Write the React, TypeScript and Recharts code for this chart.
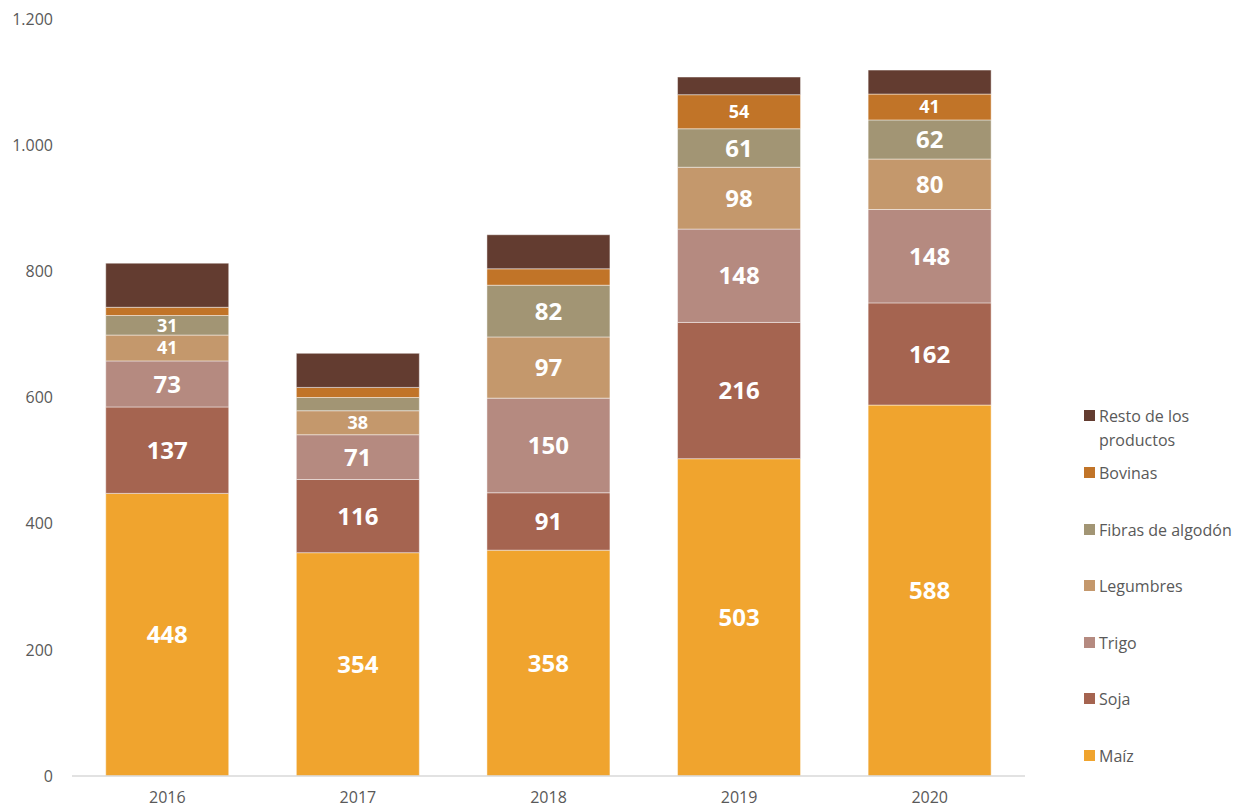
import { Bar, BarChart, XAxis, YAxis, LabelList } from "recharts"

// values in millones de US$
const years = ["2016", "2017", "2018", "2019", "2020"]
const maiz = [448, 354, 358, 503, 588]
const soja = [137, 116, 91, 216, 162]
const trigo = [73, 71, 150, 148, 148]
const legumbres = [41, 38, 97, 98, 80]
const fibras = [31, 21, 82, 61, 62]
const bovinas = [13, 16, 26, 54, 41]
const resto = [70, 54, 54, 28, 38]
const yTicks = [0, 200, 400, 600, 800, 1000, 1200]

const series = [
    { key: "maiz", name: "Maíz", color: "#F0A42E", values: maiz, labels: true },
    { key: "soja", name: "Soja", color: "#A56450", values: soja, labels: true },
    { key: "trigo", name: "Trigo", color: "#B58A80", values: trigo, labels: true },
    { key: "legumbres", name: "Legumbres", color: "#C4986C", values: legumbres, labels: true },
    { key: "fibras", name: "Fibras de algodón", color: "#A29574", values: fibras, labels: true },
    { key: "bovinas", name: "Bovinas", color: "#C17428", values: bovinas, labels: true },
    { key: "resto", name: "Resto de los productos", color: "#633C30", values: resto, labels: false },
]

const data = years.map((year, i) => {
    const row: any = { year }
    series.forEach((s) => (row[s.key] = s.values[i]))
    return row
})

const fmt = (v: number) => v.toLocaleString("es-AR")

const font = "'Open Sans', 'Noto Sans', sans-serif"

function SegmentLabel(props: any) {
    const { x, y, width, height, value } = props
    if (value < 30) return null
    const size = value < 60 ? 18 : 24
    return (
        <text
            x={x + width / 2}
            y={y + height / 2}
            dy="0.36em"
            textAnchor="middle"
            fill="#ffffff"
            fontFamily={font}
            fontWeight={700}
            fontSize={size}
        >
            {value}
        </text>
    )
}

function SideLegend() {
    const items = [...series].reverse()
    return (
        <div style={{ position: "absolute", left: 1084, top: 0, fontFamily: font, fontSize: 16, color: "#595959" }}>
            {items.map((s, i) => {
                const center = 756 - (items.length - 1 - i) * 56.6
                return (
                    <div
                        key={s.key}
                        style={{ position: "absolute", top: center - 12, left: 0, width: 158, display: "flex", alignItems: "flex-start" }}
                    >
                        <span style={{ width: 11, height: 11, background: s.color, marginTop: 6, marginRight: 4, flex: "none" }} />
                        <span style={{ lineHeight: "24px", whiteSpace: i === 0 ? "normal" : "nowrap" }}>{s.name}</span>
                    </div>
                )
            })}
        </div>
    )
}

export default function App() {
    return (
        <div style={{ position: "absolute", left: 0, top: 0, width: 1242, height: 811, background: "#fff" }}>
            <BarChart
                width={1242}
                height={811}
                data={data}
                margin={{ top: 19, right: 217, bottom: 5, left: 0 }}
                barCategoryGap="17.7%"
            >
                <XAxis
                    dataKey="year"
                    height={30}
                    tickLine={false}
                    axisLine={{ stroke: "#D9D9D9", strokeWidth: 1.5 }}
                    tick={{ fill: "#595959", fontSize: 16, fontFamily: font }}
                    tickMargin={10}
                />
                <YAxis
                    width={72}
                    domain={[0, 1200]}
                    ticks={yTicks}
                    tickLine={false}
                    axisLine={false}
                    tickFormatter={fmt}
                    tick={{ fill: "#595959", fontSize: 16, fontFamily: font }}
                    tickMargin={13}
                />
                {series.map((s) => (
                    <Bar
                        key={s.key}
                        dataKey={s.key}
                        name={s.name}
                        stackId="a"
                        fill={s.color}
                        stroke="rgba(255,255,255,0.45)"
                        strokeWidth={1}
                        isAnimationActive={false}
                    >
                        {s.labels && <LabelList dataKey={s.key} content={SegmentLabel} />}
                    </Bar>
                ))}
            </BarChart>
            <SideLegend />
        </div>
    )
}
